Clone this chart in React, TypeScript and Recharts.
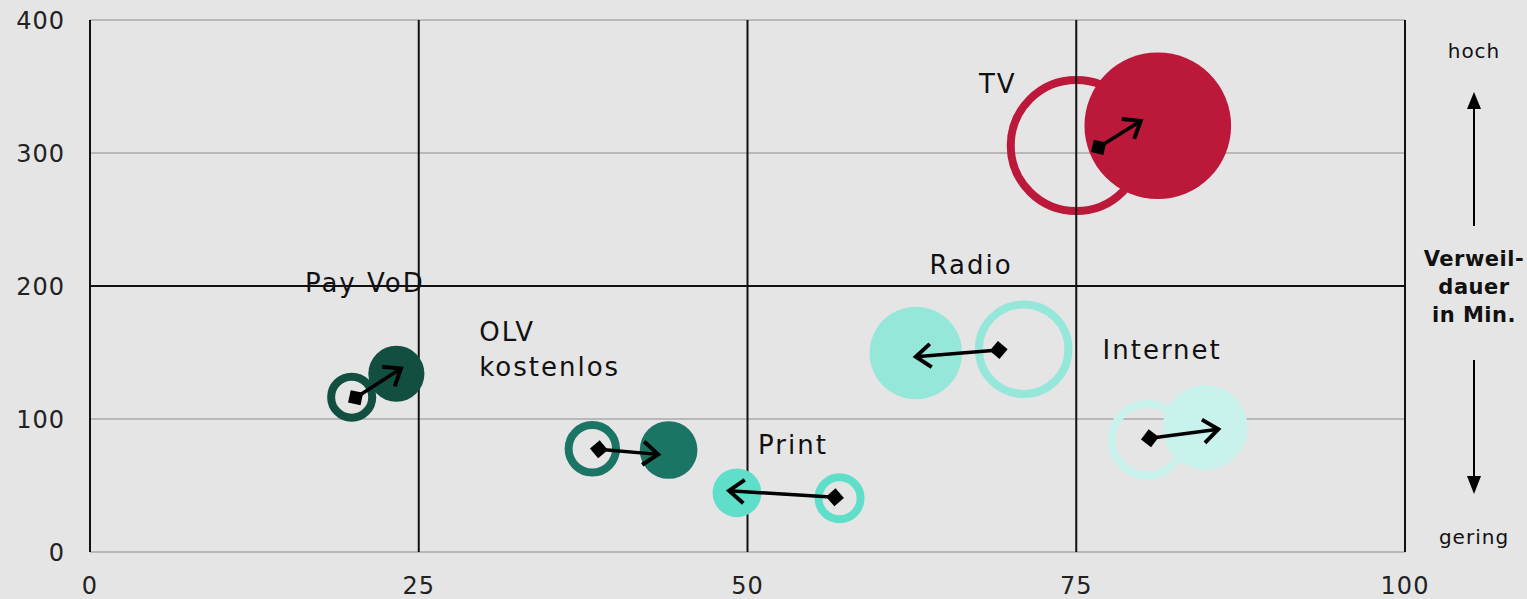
import React from 'react'
import { ScatterChart, Scatter, XAxis, YAxis, ZAxis, CartesianGrid, ReferenceLine } from 'recharts'

// Reichweite (x, %) gegen Verweildauer (y, Min.), Blasengröße = Nutzung.
// Offene Kreise = Vorjahr, gefüllte Kreise = aktuelles Jahr.
const MEDIA = ['TV', 'Pay VoD', 'OLV\nkostenlos', 'Print', 'Radio', 'Internet']

const reachPrev = [75.0, 19.9, 38.2, 57.0, 71.0, 80.4]
const dwellPrev = [305.6, 116.4, 77.6, 40.4, 152.5, 84.4]
const sizePrev = [75.5, 9.4, 12.0, 9.8, 37.2, 24.6]

const reachNow = [81.2, 23.3, 44.0, 49.2, 62.8, 84.8]
const dwellNow = [320.5, 134.0, 76.7, 44.5, 149.6, 93.6]
const sizeNow = [84.0, 12.3, 13.0, 9.3, 33.4, 28.2]

// Pfeile: vom Raute-Punkt zur Spitze
const arrowFromX = [76.7, 20.2, 38.7, 56.65, 69.1, 80.6]
const arrowFromY = [304.3, 116.0, 77.2, 41.1, 151.9, 85.5]
const arrowToX = [79.9, 23.65, 43.2, 48.6, 62.8, 85.8]
const arrowToY = [324.0, 138.0, 73.4, 46.1, 146.8, 92.3]

// Beschriftungen (Ankerpunkt in Datenkoordinaten)
const labelX = [67.6, 20.9, 29.6, 50.8, 67.0, 77.0]
const labelY = [351.9, 202.3, 152.3, 80.5, 215.8, 151.9]

const X_TICKS = [0, 25, 50, 75, 100]
const Y_TICKS = [0, 100, 200, 300, 400]

const COLORS = ['#bc1839', '#124f40', '#1a7565', '#5fdfca', '#95e8d9', '#c9f2ec']
const LABEL_ANCHOR = ['start', 'middle', 'start', 'start', 'middle', 'start']

const W = 1527
const H = 599
const FONT = '"DejaVu Sans", sans-serif'
const RING = 8

const prevRows = MEDIA.map((name, i) => ({ i, name, x: reachPrev[i], y: dwellPrev[i], z: sizePrev[i] }))
const nowRows = MEDIA.map((name, i) => ({ i, name, x: reachNow[i], y: dwellNow[i], z: sizeNow[i] }))
const labelRows = MEDIA.map((name, i) => ({ i, name, x: labelX[i], y: labelY[i] }))

function radiusOf(p: any) {
  if (p.width) return p.width / 2
  return Math.sqrt(Math.max(p.size || 0, 0) / Math.PI)
}

const OpenBubble = (p: any) => (
  <circle cx={p.cx} cy={p.cy} r={Math.max(radiusOf(p) - RING / 2, 0)} fill="none" stroke={COLORS[p.payload.i]} strokeWidth={RING} />
)

const FilledBubble = (p: any) => <circle cx={p.cx} cy={p.cy} r={radiusOf(p)} fill={COLORS[p.payload.i]} />

const MediaLabel = (p: any) => {
  const lines = String(p.payload.name).split('\n')
  const lh = 35
  const top = p.cy - ((lines.length - 1) * lh) / 2
  const anchor = LABEL_ANCHOR[p.payload.i] as any
  return (
    <text
      x={p.cx}
      y={top}
      textAnchor={anchor}
      dominantBaseline="central"
      fontFamily={FONT}
      fontSize={26}
      letterSpacing={2}
      fill="#111"
    >
      {lines.map((l, k) => (
        <tspan key={k} x={p.cx} y={top + k * lh}>
          {l}
        </tspan>
      ))}
    </text>
  )
}

const Arrow = (p: any) => {
  const { x1, y1, x2, y2 } = p
  if ([x1, y1, x2, y2].some((v) => typeof v !== 'number')) return <g />
  const a = Math.atan2(y2 - y1, x2 - x1)
  const L = 19
  const th = (38 * Math.PI) / 180
  const d = 9
  const diamond = [0, 1, 2, 3]
    .map((k) => {
      const ang = a + (k * Math.PI) / 2
      return `${x1 + d * Math.cos(ang)},${y1 + d * Math.sin(ang)}`
    })
    .join(' ')
  const h1 = `${x2 - L * Math.cos(a - th)},${y2 - L * Math.sin(a - th)}`
  const h2 = `${x2 - L * Math.cos(a + th)},${y2 - L * Math.sin(a + th)}`
  return (
    <g>
      <line x1={x1} y1={y1} x2={x2} y2={y2} stroke="#000" strokeWidth={3.5} />
      <polyline points={`${h1} ${x2},${y2} ${h2}`} fill="none" stroke="#000" strokeWidth={4} strokeLinejoin="miter" />
      <polygon points={diamond} fill="#000" />
    </g>
  )
}

const tickStyle = { fontSize: 24, fill: '#222', fontFamily: FONT, letterSpacing: 1 }

export default function App() {
  return (
    <div style={{ position: 'absolute', left: 0, top: 0, width: W, height: H, background: '#e5e5e5', overflow: 'hidden' }}>
      <ScatterChart width={W} height={H} margin={{ top: 20, right: 122, bottom: 0, left: 0 }}>
        <CartesianGrid horizontal vertical={false} stroke="#b8b8b8" strokeWidth={2} zIndex={-100} />
        <XAxis
          type="number"
          dataKey="x"
          domain={[0, 100]}
          ticks={X_TICKS}
          axisLine={false}
          tickLine={false}
          tickSize={0}
          tickMargin={25}
          height={47}
          tick={tickStyle}
        />
        <YAxis
          type="number"
          dataKey="y"
          domain={[0, 400]}
          ticks={Y_TICKS}
          axisLine={false}
          tickLine={false}
          tickSize={0}
          tickMargin={25}
          width={90}
          tick={tickStyle}
        />
        <ZAxis type="number" dataKey="z" domain={[0, 100]} range={[0, Math.PI * 80 * 80]} />
        <Scatter data={prevRows} shape={OpenBubble} isAnimationActive={false} zIndex={550} />
        {X_TICKS.map((v) => (
          <ReferenceLine key={'x' + v} x={v} stroke="#111" strokeWidth={2} zIndex={560} />
        ))}
        <ReferenceLine y={200} stroke="#111" strokeWidth={2} zIndex={560} />
        <Scatter data={nowRows} shape={FilledBubble} isAnimationActive={false} zIndex={570} />
        {MEDIA.map((m, i) => (
          <ReferenceLine
            key={'a' + i}
            segment={[
              { x: arrowFromX[i], y: arrowFromY[i] },
              { x: arrowToX[i], y: arrowToY[i] },
            ]}
            shape={Arrow}
            zIndex={580}
          />
        ))}
        <Scatter data={labelRows} shape={MediaLabel} isAnimationActive={false} zIndex={590} />
      </ScatterChart>
      <svg width={W} height={H} style={{ position: 'absolute', left: 0, top: 0, pointerEvents: 'none' }}>
        <g fontFamily={FONT} fill="#111" textAnchor="middle">
          <text x={1474} y={51} fontSize={20} letterSpacing={1} dominantBaseline="central">hoch</text>
          <line x1={1474} y1={226} x2={1474} y2={106} stroke="#000" strokeWidth={2} />
          <polygon points="1467,109 1481,109 1474,92" fill="#000" />
          <text fontSize={21} fontWeight="bold" letterSpacing={0.5}>
            <tspan x={1474} y={266}>Verweil-</tspan>
            <tspan x={1474} y={294}>dauer</tspan>
            <tspan x={1474} y={322}>in Min.</tspan>
          </text>
          <line x1={1474} y1={360} x2={1474} y2={478} stroke="#000" strokeWidth={2} />
          <polygon points="1467,476 1481,476 1474,494" fill="#000" />
          <text x={1474} y={537} fontSize={20} letterSpacing={1} dominantBaseline="central">gering</text>
        </g>
      </svg>
    </div>
  )
}
